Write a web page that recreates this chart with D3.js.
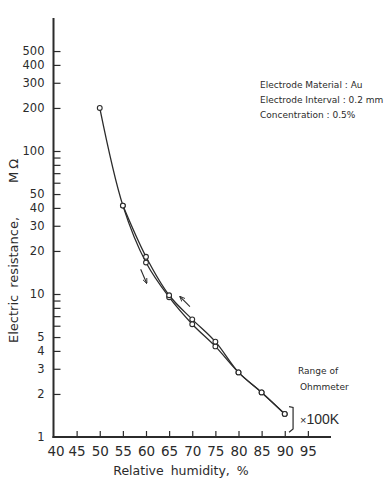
<!DOCTYPE html>
<html><head><meta charset="utf-8">
<script src="https://cdn.jsdelivr.net/npm/d3@7"></script>
<style>body{margin:0;background:#fff}svg{display:block}</style>
</head><body><svg id="c" width="387" height="481"></svg>
<script>
// ---- data ----
const humidityRising = [50, 55, 60, 65, 70, 75, 80, 85, 90];
const resistanceRising = [200, 41.5, 16.6, 9.5, 6.15, 4.3, 2.83, 2.05, 1.45];
const humidityFalling = [55, 60, 65, 70, 75, 80, 85, 90];
const resistanceFalling = [41.5, 18.2, 9.8, 6.65, 4.64, 2.83, 2.05, 1.45];
const xTickValues = [40, 45, 50, 55, 60, 65, 70, 75, 80, 85, 90, 95];
const yTickValues = [2,3,4,5,6,7,8,9,10,20,30,40,50,60,70,80,90,100,200,300,400,500];
const yTickLabels = [1,2,3,4,5,10,20,30,40,50,100,200,300,400,500];
const arrowRising = [[58.85, 14.9], [60.15, 11.9]];
const arrowFalling = [[69.5, 8.15], [67.35, 9.6]];
const infoLines = ["Electrode Material : Au", "Electrode Interval : 0.2 mm", "Concentration : 0.5%"];

const ink = "#2b2b2b";
const svg = d3.select("#c");
const x = d3.scaleLinear().domain([40, 100]).range([53.5, 331]);
const y = d3.scaleLog().domain([1, 1000]).range([437, 8]);

svg.append("defs").append("marker")
  .attr("id", "ah").attr("viewBox", "0 0 10 10").attr("refX", 9).attr("refY", 5)
  .attr("markerWidth", 5).attr("markerHeight", 5).attr("orient", "auto")
  .append("path").attr("d", "M0,1 L10,5 L0,9").attr("fill", "none").attr("stroke", ink).attr("stroke-width", 1.6);

// x axis
const gx = svg.append("g").attr("transform", `translate(0,${y(1)})`)
  .call(d3.axisBottom(x).tickValues(xTickValues).tickSizeInner(-6).tickSizeOuter(0).tickPadding(9)
    .tickFormat(d => d));
gx.select(".domain").remove();
gx.selectAll(".tick line").attr("stroke", ink).attr("stroke-width", 1.2).filter(d => d === 40).remove();
gx.selectAll(".tick text").attr("font-family", "DejaVu Sans").attr("font-size", 13.5).attr("fill", ink)
  .attr("dx", d => d === 40 ? 2 : 0);
svg.append("line").attr("x1", x(40) - 1).attr("x2", x(100)).attr("y1", y(1)).attr("y2", y(1))
  .attr("stroke", ink).attr("stroke-width", 2);

// y axis
const gy = svg.append("g").attr("transform", `translate(${x(40)},0)`)
  .call(d3.axisLeft(y).tickValues([1, ...yTickValues]).tickSizeInner(-7).tickSizeOuter(0).tickPadding(9)
    .tickFormat(d => yTickLabels.includes(d) ? d : ""));
gy.select(".domain").remove();
gy.selectAll(".tick line").attr("stroke", ink).attr("stroke-width", 1.2).filter(d => d === 1).remove();
gy.selectAll(".tick text").attr("font-family", "DejaVu Sans").attr("font-size", 11.5).attr("fill", ink);
svg.append("line").attr("x1", x(40)).attr("x2", x(40)).attr("y1", y(1) + 1).attr("y2", 18)
  .attr("stroke", ink).attr("stroke-width", 2);

// axis titles
svg.append("text").attr("x", 181).attr("y", 475).attr("text-anchor", "middle")
  .attr("font-family", "DejaVu Sans").attr("font-size", 12.5).attr("word-spacing", 3).attr("fill", ink)
  .text("Relative humidity, %");
svg.append("text").attr("transform", "translate(18,343) rotate(-90)")
  .attr("font-family", "DejaVu Sans").attr("font-size", 13).attr("word-spacing", 3).attr("fill", ink)
  .text("Electric resistance,");
svg.append("text").attr("transform", "translate(18,183) rotate(-90)")
  .attr("font-family", "DejaVu Sans").attr("font-size", 13).attr("letter-spacing", 3).attr("fill", ink)
  .text("MΩ");

// curves
const line = d3.line().x(d => x(d[0])).y(d => y(d[1])).curve(d3.curveCatmullRom.alpha(0.5));
const rising = humidityRising.map((h, i) => [h, resistanceRising[i]]);
const falling = humidityFalling.map((h, i) => [h, resistanceFalling[i]]);
[rising, falling].forEach(s => {
  svg.append("path").datum(s).attr("d", line).attr("fill", "none").attr("stroke", ink).attr("stroke-width", 1.3);
});
[rising, falling].forEach(s => {
  svg.append("g").selectAll("circle").data(s).join("circle")
    .attr("cx", d => x(d[0])).attr("cy", d => y(d[1])).attr("r", 2.4)
    .attr("fill", "#fff").attr("stroke", ink).attr("stroke-width", 1.1);
});

// arrows
[arrowRising, arrowFalling].forEach(a => {
  svg.append("line").attr("x1", x(a[0][0])).attr("y1", y(a[0][1])).attr("x2", x(a[1][0])).attr("y2", y(a[1][1]))
    .attr("stroke", ink).attr("stroke-width", 1.1).attr("marker-end", "url(#ah)");
});

// info text
svg.append("g").selectAll("text").data(infoLines).join("text")
  .attr("x", 260).attr("y", (d, i) => 88 + i * 15)
  .attr("font-family", "DejaVu Sans").attr("font-size", 9).attr("fill", ink)
  .text(d => d);

// range of ohmmeter
svg.append("text").attr("x", 298).attr("y", 374).attr("font-family", "DejaVu Sans").attr("font-size", 9).attr("fill", ink).text("Range of");
svg.append("text").attr("x", 300).attr("y", 390).attr("font-family", "DejaVu Sans").attr("font-size", 9).attr("fill", ink).text("Ohmmeter");
const bx = x(91.8);
svg.append("path")
  .attr("d", `M${bx - 4},${y(1.63)} L${bx},${y(1.61)} L${bx},${y(1.14)} L${bx - 4},${y(1.08)}`)
  .attr("fill", "none").attr("stroke", ink).attr("stroke-width", 1.2);
svg.append("text").attr("x", 300).attr("y", 424).attr("font-family", "Liberation Sans").attr("font-size", 14).attr("fill", ink)
  .html('<tspan font-size="11">×</tspan>100K');
</script></body></html>
